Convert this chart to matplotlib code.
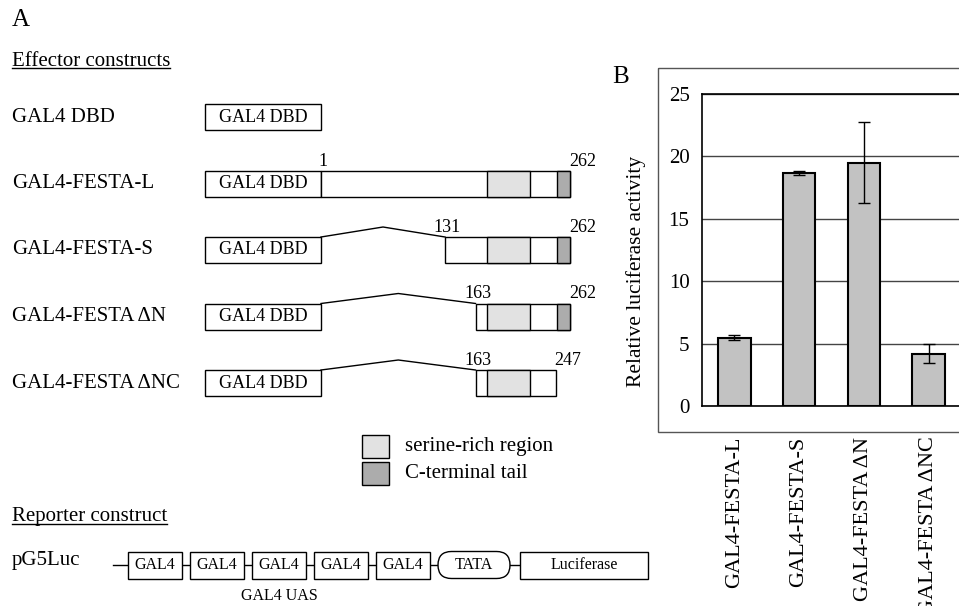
import matplotlib
matplotlib.use("Agg")
import matplotlib.pyplot as plt
from matplotlib.patches import Rectangle, FancyBboxPatch

plt.rcParams['font.family'] = ['Liberation Serif', 'DejaVu Serif']

# effector constructs (FESTA residues fused after GAL4 DBD)
construct_names = ["GAL4 DBD", "GAL4-FESTA-L", "GAL4-FESTA-S",
                   "GAL4-FESTA \u0394N", "GAL4-FESTA \u0394NC"]
construct_start = [None, 1, 131, 163, 163]
construct_end = [None, 262, 262, 262, 247]
festa_length = 262
serine_region = (175, 220)
c_terminal_tail = (248, 262)

# reporter construct elements
reporter_parts = ["GAL4", "GAL4", "GAL4", "GAL4", "GAL4", "TATA", "Luciferase"]

# panel B data
bar_labels = ["GAL4-FESTA-L", "GAL4-FESTA-S", "GAL4-FESTA \u0394N", "GAL4-FESTA \u0394NC"]
bar_values = [5.45, 18.65, 19.5, 4.2]
bar_errors = [0.2, 0.15, 3.25, 0.73]
y_ticks = [0, 5, 10, 15, 20, 25]

SERINE_COLOR = "#e2e2e2"
TAIL_COLOR = "#acacac"
BAR_COLOR = "#c2c2c2"

# layout of the schematic (pixels of the 959x606 canvas)
DBD_X0, DBD_X1 = 205, 321
FESTA_X1 = 570
ROW_Y0, ROW_STEP, BOX_H = 117, 66.5, 26


def res_x(res):
    return DBD_X1 + (res - 1) * (FESTA_X1 - DBD_X1) / (festa_length - 1)


def box(ax, x0, x1, top, h, fc="white", lw=1.0):
    ax.add_patch(Rectangle((x0, top), x1 - x0, h, facecolor=fc,
                           edgecolor="black", linewidth=lw))


def underlined(ax, fig, x, y, s, size):
    t = ax.text(x, y, s, fontsize=size, ha="left", va="center")
    r = fig.canvas.get_renderer()
    bb = t.get_window_extent(renderer=r)
    inv = ax.transData.inverted()
    (ax0, yb), (ax1, _) = inv.transform([(bb.x0, bb.y0), (bb.x1, bb.y1)])
    ax.plot([ax0, ax1], [yb - 3, yb - 3], color="black", lw=1.0)


def draw_schematic(fig, ax):
    ax.set_xlim(0, 959)
    ax.set_ylim(606, 0)
    ax.axis("off")

    ax.text(12, 20, "A", fontsize=18, va="center")
    ax.text(612, 77, "B", fontsize=18, va="center")
    underlined(ax, fig, 12, 61, "Effector constructs", 15)

    for i, name in enumerate(construct_names):
        yc = ROW_Y0 + i * ROW_STEP
        top = yc - BOX_H / 2
        ax.text(12, yc, name, fontsize=15, va="center")
        box(ax, DBD_X0, DBD_X1, top, BOX_H)
        ax.text((DBD_X0 + DBD_X1) / 2, yc, "GAL4 DBD", fontsize=13,
                ha="center", va="center")

        start, end = construct_start[i], construct_end[i]
        if start is None:
            continue
        x0, x1 = res_x(start), res_x(end)
        if start > 1:
            # deleted part drawn as a bent line
            ax.plot([DBD_X1, (DBD_X1 + x0) / 2, x0], [top, top - 10, top],
                    color="black", lw=1.0)
        box(ax, x0, x1, top, BOX_H)
        s0, s1 = max(start, serine_region[0]), min(end, serine_region[1])
        if s1 > s0:
            box(ax, res_x(s0), res_x(s1), top, BOX_H, fc=SERINE_COLOR)
        if end >= c_terminal_tail[1]:
            box(ax, res_x(c_terminal_tail[0]), res_x(c_terminal_tail[1]),
                top, BOX_H, fc=TAIL_COLOR)
        ax.text(x0 + 2, top - 1, str(start), fontsize=13, ha="center", va="bottom")
        ax.text(x1 - 1, top - 1, str(end), fontsize=13, ha="left", va="bottom")

    # legend
    for j, (fc, txt) in enumerate([(SERINE_COLOR, "serine-rich region"),
                                   (TAIL_COLOR, "C-terminal tail")]):
        top = 435 + j * 27
        box(ax, 362, 389, top, 23, fc=fc)
        ax.text(405, top + 11.5, txt, fontsize=15, va="center")

    # reporter
    underlined(ax, fig, 12, 517, "Reporter construct", 15)
    yc = 565
    h = 27
    ax.text(12, yc - 4, "pG5Luc", fontsize=15, va="center")
    x = 128
    ax.plot([113, 525], [yc, yc], color="black", lw=1.0, zorder=1)
    for part in reporter_parts:
        if part == "GAL4":
            w = 54
            box(ax, x, x + w, yc - h / 2, h)
        elif part == "TATA":
            w = 72
            ax.add_patch(FancyBboxPatch((x, yc - h / 2), w, h,
                                        boxstyle="round,pad=0,rounding_size=13.5",
                                        facecolor="white", edgecolor="black",
                                        linewidth=1.0, zorder=2))
        else:
            x += 2
            w = 128
            box(ax, x, x + w, yc - h / 2, h)
        ax.text(x + w / 2, yc, part, fontsize=11.5, ha="center", va="center")
        x += w + 8
    ax.text(279, 596, "GAL4 UAS", fontsize=11.5, ha="center", va="center")

    # frame of panel B
    ax.add_patch(Rectangle((658, 68), 400, 364, facecolor="none",
                           edgecolor="#555555", linewidth=1.0))


def draw_bars(fig):
    ax = fig.add_axes([702 / 959, 1 - 406 / 606, 259 / 959, 312 / 606])
    pos = list(range(len(bar_values)))
    ax.bar(pos, bar_values, width=0.5, color=BAR_COLOR, edgecolor="black",
           linewidth=1.5, zorder=2)
    ax.errorbar(pos, bar_values, yerr=bar_errors, fmt="none", ecolor="black",
                elinewidth=1.0, capsize=4, capthick=1.0, zorder=3)
    ax.set_xlim(-0.5, 3.5)
    ax.set_ylim(0, 25)
    ax.set_yticks(y_ticks)
    ax.set_yticklabels([str(t) for t in y_ticks], fontsize=15)
    ax.set_xticks(pos)
    ax.set_xticklabels(bar_labels, rotation=90, fontsize=16, va="top")
    ax.tick_params(axis="both", length=0)
    ax.tick_params(axis="y", pad=9)
    ax.tick_params(axis="x", pad=22)
    ax.yaxis.grid(True, color="#444444", lw=1.0)
    ax.set_axisbelow(True)
    for side in ["left", "top", "bottom"]:
        ax.spines[side].set_linewidth(1.2)
        ax.spines[side].set_color("black")
    ax.spines["right"].set_visible(False)
    ax.set_ylabel("Relative luciferase activity", fontsize=15.5)
    ax.yaxis.set_label_coords(-0.215, 0.43)


def main():
    fig = plt.figure(figsize=(9.59, 6.06), dpi=100)
    ax0 = fig.add_axes([0, 0, 1, 1])
    draw_schematic(fig, ax0)
    draw_bars(fig)
    fig.savefig("out.png", dpi=100)


if __name__ == '__main__':
    main()
